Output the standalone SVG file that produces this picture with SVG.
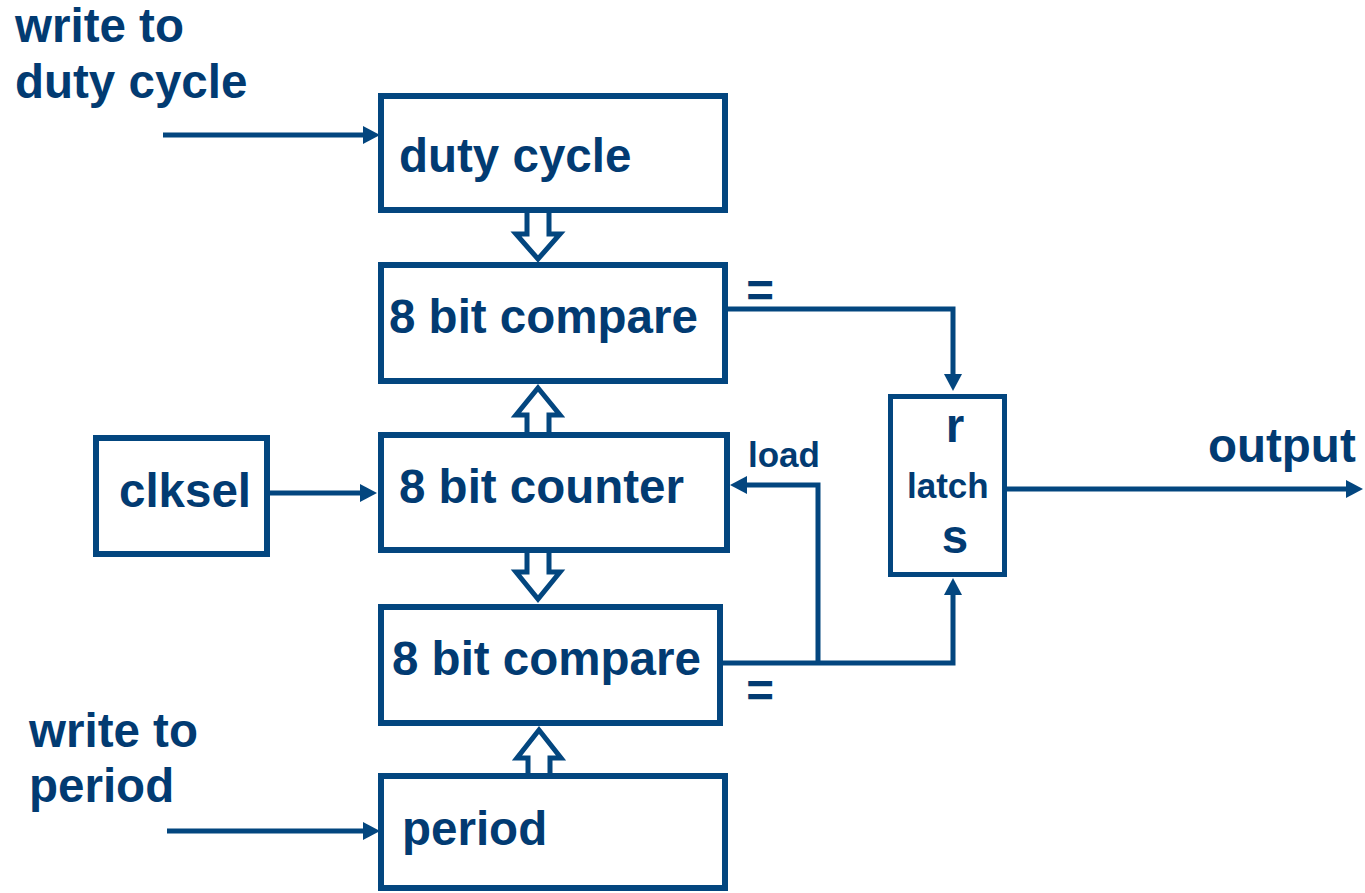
<svg xmlns="http://www.w3.org/2000/svg" width="1365" height="893" viewBox="0 0 1365 893">
  <style>
    .box { fill: #ffffff; stroke: #03467f; stroke-width: 6; }
    .latch { fill: #ffffff; stroke: #03467f; stroke-width: 5; }
    .bus { fill: #ffffff; stroke: #03467f; stroke-width: 5; stroke-linejoin: miter; }
    .wire { fill: none; stroke: #03467f; stroke-width: 5; marker-end: url(#head); }
    .plain { fill: none; stroke: #03467f; stroke-width: 5; }
    text { font-family: "Liberation Sans", Arial, sans-serif; font-weight: bold; fill: #023b72; }
    .big { font-size: 47.5px; }
    .small { font-size: 35px; }
  </style>
  <defs>
    <marker id="head" markerUnits="userSpaceOnUse" markerWidth="18" markerHeight="18" refX="0" refY="9" orient="auto" overflow="visible">
      <path d="M0,0 L17,9 L0,18 Z" fill="#03467f"/>
    </marker>
  </defs>

  <!-- free-standing labels -->
  <text class="big" x="15" y="42">write to</text>
  <text class="big" x="15" y="98">duty cycle</text>
  <text class="big" x="29" y="747">write to</text>
  <text class="big" x="29" y="802">period</text>
  <text class="big" x="1208" y="462">output</text>
  <text class="small" x="748" y="467">load</text>
  <text class="big" x="760" y="307" text-anchor="middle">=</text>
  <text class="big" x="760" y="707" text-anchor="middle">=</text>

  <!-- wide bus arrows between the stacked blocks -->
  <g id="buses">
    <polygon class="bus" points="527,205 527,234 516,234 538,259 560,234 549,234 549,205"/>
    <polygon class="bus" points="538,388 560,415 549,415 549,440 527,440 527,415 516,415"/>
    <polygon class="bus" points="527,545 527,572 516,572 538,599 560,572 549,572 549,545"/>
    <polygon class="bus" points="539,730 561,758 550,758 550,780 528,780 528,758 517,758"/>
  </g>

  <!-- signal connectors -->
  <g id="connectors">
    <path class="wire" d="M163,135 H363"/>
    <path class="wire" d="M167,831 H363"/>
    <path class="wire" d="M270,493 H360"/>
    <path class="wire" d="M726,309 H953 V374"/>
    <path class="wire" d="M721,663 H953 V595"/>
    <path class="wire" d="M818,663 V485 H747"/>
    <path class="wire" d="M1005,489 H1346"/>
  </g>

  <g id="duty-cycle">
    <rect class="box" x="381" y="96" width="344" height="114"/>
    <text class="big" x="399" y="172">duty cycle</text>
  </g>

  <g id="compare-duty">
    <rect class="box" x="381" y="265" width="344" height="116"/>
    <text class="big" x="389" y="333">8 bit compare</text>
  </g>

  <g id="counter">
    <rect class="box" x="381" y="435" width="346" height="115"/>
    <text class="big" x="399" y="503">8 bit counter</text>
  </g>

  <g id="clksel">
    <rect class="box" x="96" y="438" width="171" height="116"/>
    <text class="big" x="119" y="507">clksel</text>
  </g>

  <g id="compare-period">
    <rect class="box" x="381" y="607" width="339" height="116"/>
    <text class="big" x="392" y="675">8 bit compare</text>
  </g>

  <g id="period">
    <rect class="box" x="381" y="776" width="344" height="112"/>
    <text class="big" x="402" y="845">period</text>
  </g>

  <g id="latch">
    <rect class="latch" x="890.5" y="396.5" width="114" height="178"/>
    <text class="big" x="955" y="442" text-anchor="middle">r</text>
    <text class="small" x="907" y="498">latch</text>
    <text class="big" x="955" y="553" text-anchor="middle">s</text>
  </g>
</svg>
